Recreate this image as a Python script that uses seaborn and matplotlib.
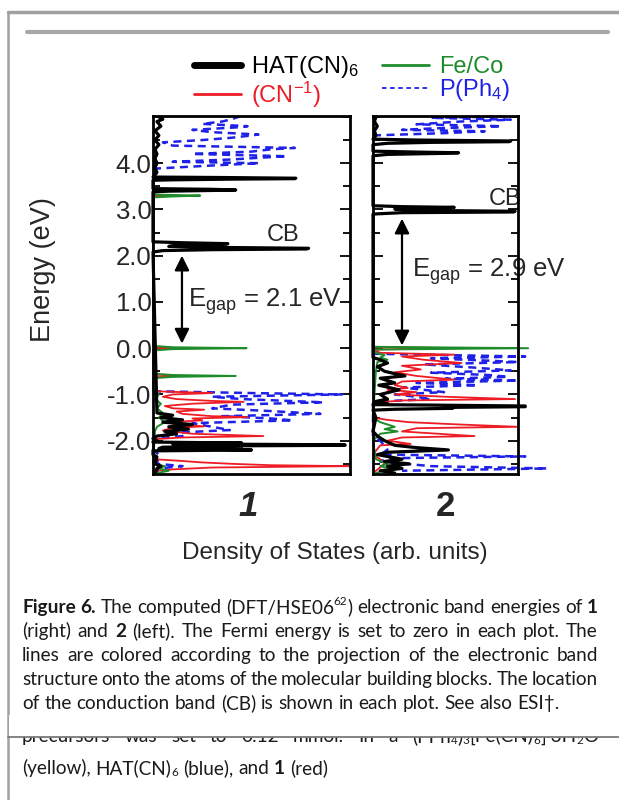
import re
import numpy as np
import pandas as pd
import matplotlib
matplotlib.use("Agg")
import matplotlib.pyplot as plt
from matplotlib.lines import Line2D
from matplotlib.patches import Rectangle
from matplotlib.ticker import FixedLocator, MultipleLocator, FixedFormatter
import seaborn as sns

# ---- DOS traces (energy in eV, dos as fraction of panel width) ----
# panel 1
hat1_e = [5.0, 4.95, 4.9, 4.8, 4.7, 4.6, 4.5, 4.4, 4.3, 4.2, 4.1, 4.0, 3.9, 3.8, 3.7,
          3.69, 3.675, 3.665, 3.655, 3.64, 3.63, 3.45, 3.435, 3.42, 3.41, 3.395, 3.38,
          2.3, 2.28, 2.26, 2.245, 2.23, 2.2, 2.18, 2.16, 2.145, 2.13, 2.11, 2.08,
          -1.4, -1.45, -1.5, -1.55, -1.6, -1.65, -1.7, -1.75, -1.8, -1.85, -1.9, -1.95,
          -2.0, -2.03, -2.05, -2.07, -2.08, -2.09, -2.1, -2.11, -2.12, -2.13, -2.14,
          -2.17, -2.19, -2.2, -2.22, -2.3, -2.35, -2.5, -2.55, -2.6, -2.7]
hat1_d = [0.03, 0.05, 0.02, 0.04, 0.01, 0.03, 0.01, 0.03, 0.01, 0.02, 0.01, 0.02, 0.01, 0.02, 0.0,
          0.35, 0.725, 0.72, 0.4, 0.1, 0.0, 0.0, 0.3, 0.42, 0.3, 0.08, 0.0,
          0.0, 0.15, 0.38, 0.35, 0.12, 0.08, 0.3, 0.79, 0.78, 0.3, 0.05, 0.0,
          0.02, 0.1, 0.04, 0.15, 0.05, 0.2, 0.08, 0.18, 0.06, 0.12, 0.02, 0.0,
          0.02, 0.0, 0.45, 0.1, 0.6, 0.975, 0.975, 0.45, 0.45, 0.35, 0.05,
          0.03, 0.35, 0.5, 0.0, 0.0, 0.02, 0.01, 0.04, 0.02, 0.01]
feco1_e = [3.35, 3.32, 3.3, 3.28, 3.26, 0.05, 0.02, 0.0, -0.02, -0.05, -0.55, -0.58, -0.6,
           -0.62, -0.65, -0.95, -1.0, -1.1, -1.2, -1.3, -1.4, -1.5, -1.6, -1.7, -1.8, -2.5,
           -2.55, -2.6, -2.65, -2.7]
feco1_d = [0.0, 0.02, 0.24, 0.1, 0.0, 0.0, 0.1, 0.475, 0.1, 0.0, 0.0, 0.1, 0.42,
           0.1, 0.0, 0.0, 0.03, 0.01, 0.04, 0.02, 0.05, 0.03, 0.06, 0.02, 0.01, 0.0,
           0.06, 0.03, 0.08, 0.02]
cn1_e = [3.32, 3.3, 3.28, 0.03, 0.0, -0.03, -0.57, -0.6, -0.63, -0.93, -0.97, -1.0, -1.05,
         -1.1, -1.14, -1.16, -1.2, -1.25, -1.3, -1.33, -1.37, -1.42, -1.47, -1.49, -1.52,
         -1.56, -1.6, -1.65, -1.69, -1.72, -1.78, -1.85, -1.9, -1.93, -1.97, -2.4, -2.43,
         -2.47, -2.5, -2.53, -2.55, -2.58, -2.62, -2.65]
cn1_d = [0.0, 0.06, 0.0, 0.0, 0.12, 0.0, 0.0, 0.15, 0.0, 0.0, 0.3, 0.1, 0.05,
         0.12, 0.3, 0.46, 0.2, 0.06, 0.1, 0.26, 0.12, 0.15, 0.3, 0.48, 0.2,
         0.25, 0.08, 0.12, 0.26, 0.1, 0.05, 0.2, 0.56, 0.15, 0.0, 0.0, 0.12,
         0.25, 0.4, 0.6, 1.0, 0.3, 0.1, 0.0]
pph1_top_e = [3.88, 3.95, 4.0, 4.03, 4.08, 4.12, 4.15, 4.2, 4.25, 4.3, 4.33, 4.38, 4.45,
              4.5, 4.55, 4.6, 4.62, 4.67, 4.72, 4.78, 4.8, 4.85, 4.9, 4.95, 5.01]
pph1_top_d = [0.0, 0.3, 0.54, 0.1, 0.4, 0.55, 0.68, 0.2, 0.5, 0.6, 0.72, 0.1, 0.05,
              0.25, 0.4, 0.5, 0.535, 0.3, 0.2, 0.45, 0.48, 0.25, 0.35, 0.4, 0.44]
pph1_low_e = [-0.93, -0.97, -1.0, -1.05, -1.1, -1.17, -1.22, -1.3, -1.36, -1.42, -1.47,
              -1.52, -1.56, -1.62, -1.7, -1.77, -1.83, -1.9, -1.95, -2.2, -2.3, -2.5,
              -2.55, -2.6, -2.7]
pph1_low_d = [0.0, 0.5, 0.96, 0.3, 0.45, 0.865, 0.4, 0.3, 0.6, 0.85, 0.35,
              0.6, 0.71, 0.2, 0.3, 0.39, 0.1, 0.15, 0.0, 0.0, 0.03, 0.02,
              0.15, 0.03, 0.02]

# panel 2
hat2_e = [5.0, 4.9, 4.8, 4.7, 4.6, 4.52, 4.5, 4.48, 4.465, 4.45, 4.43, 4.4, 4.26, 4.24,
          4.225, 4.21, 4.19, 4.16, 3.08, 3.06, 3.045, 3.03, 3.01, 2.98, 2.96, 2.945, 2.93,
          2.9, -0.2, -0.25, -0.32, -0.4, -0.5, -0.6, -0.65, -0.75, -0.8, -0.9, -1.0, -1.1,
          -1.15, -1.2, -1.22, -1.23, -1.25, -1.265, -1.28, -1.3, -1.32, -1.34, -1.5, -1.8,
          -1.9, -2.0, -2.1, -2.15, -2.2, -2.25, -2.3, -2.4, -2.45, -2.5, -2.55, -2.6,
          -2.65, -2.7]
hat2_d = [0.02, 0.01, 0.03, 0.01, 0.02, 0.0, 0.3, 0.95, 0.94, 0.4, 0.1, 0.0, 0.0, 0.3,
          0.59, 0.45, 0.1, 0.0, 0.0, 0.2, 0.56, 0.4, 0.15, 0.3, 0.98, 0.97, 0.2,
          0.0, 0.0, 0.05, 0.1, 0.03, 0.08, 0.22, 0.05, 0.15, 0.04, 0.18, 0.05, 0.1,
          0.02, 0.1, 0.0, 0.4, 1.05, 1.05, 0.5, 0.55, 0.15, 0.0, 0.02, 0.0,
          0.03, 0.08, 0.15, 0.3, 0.52, 0.1, 0.03, 0.2, 0.08, 0.25, 0.1, 0.2,
          0.05, 0.15]
feco2_e = [0.03, 0.0, -0.03, -0.1, -0.15, -0.2, -0.25, -0.3, -0.5, -1.5, -1.6, -1.7,
           -1.75, -1.8, -1.85, -2.0, -2.4, -2.5, -2.55, -2.6, -2.7]
feco2_d = [0.0, 1.07, 0.0, 0.02, 0.08, 0.05, 0.1, 0.03, 0.02, 0.0, 0.05, 0.15,
           0.08, 0.17, 0.05, 0.0, 0.02, 0.1, 0.05, 0.12, 0.02]
cn2_e = [0.03, 0.0, -0.03, -0.1, -0.14, -0.18, -0.25, -0.32, -0.38, -0.46, -0.52, -0.6,
         -0.68, -0.72, -0.8, -0.86, -0.9, -0.95, -1.0, -1.05, -1.1, -1.13, -1.18, -1.5,
         -1.55, -1.6, -1.65, -1.7, -1.73, -1.8, -1.86, -1.9, -1.93, -2.0, -2.07, -2.1,
         -2.3, -2.4, -2.5, -2.7]
cn2_d = [0.0, 0.57, 0.0, 0.05, 0.56, 0.2, 0.35, 0.61, 0.2, 0.33, 0.15, 0.3,
         0.56, 0.2, 0.15, 0.24, 0.1, 0.3, 0.15, 0.5, 0.98, 0.2, 0.0, 0.0,
         0.1, 0.25, 0.6, 1.0, 0.3, 0.2, 0.5, 0.7, 0.2, 0.1, 0.26, 0.05,
         0.0, 0.05, 0.08, 0.0]
pph2_top_e = [4.6, 4.65, 4.69, 4.72, 4.75, 4.8, 4.84, 4.9, 4.94, 4.98, 5.01]
pph2_top_d = [0.0, 0.5, 0.77, 0.2, 0.4, 0.885, 0.3, 0.6, 0.95, 0.4, 0.9]
pph2_low_e = [-0.12, -0.18, -0.22, -0.27, -0.3, -0.35, -0.42, -0.48, -0.53, -0.58, -0.62,
              -0.66, -0.7, -0.75, -0.8, -0.85, -0.9, -0.95, -1.0, -1.05, -1.1, -1.15,
              -1.2, -1.9, -2.0, -2.2, -2.3, -2.34, -2.38, -2.45, -2.55, -2.6, -2.65]
pph2_low_d = [0.0, 1.05, 0.4, 0.8, 1.0, 0.35, 0.7, 0.95, 0.4, 0.8, 0.93,
              0.5, 1.0, 0.3, 0.72, 0.2, 0.35, 0.49, 0.15, 0.3, 0.4, 0.05,
              0.0, 0.0, 0.05, 0.1, 0.05, 1.05, 0.1, 0.05, 0.4, 1.2, 0.2]

legend_labels = ["HAT(CN)$_6$", "(CN$^{-1}$)", "Fe/Co", "P(Ph$_4$)"]
ytick_vals = [-2, -1, 0, 1, 2, 3, 4]
ytick_text = ["-2.0", "-1.0", "0.0", "1.0", "2.0", "3.0", "4.0"]
gap_text = ["E$_{gap}$ = 2.1 eV", "E$_{gap}$ = 2.9 eV"]
gap_ends = [(2.0, 0.1), (2.8, 0.06)]

caption_lines = [
    "**Figure** **6.** The computed (DFT/HSE06^62) electronic band energies of **1**",
    "(right) and **2** (left). The Fermi energy is set to zero in each plot. The",
    "lines are colored according to the projection of the electronic band",
    "structure onto the atoms of the molecular building blocks. The location",
    "of the conduction band (CB) is shown in each plot. See also ESI\u2020.",
]
cut_line = "precursors was set to 0.12 mmol. In a (PPh_4)_3[Fe(CN)_6]\u00b73H_2O"
last_line = "(yellow), HAT(CN)_6 (blue), and **1** (red)"

# ---- style ----
sns.set_theme(style="white")
plt.rcParams["font.family"] = ["Liberation Sans", "DejaVu Sans"]
plt.rcParams["mathtext.fontset"] = "custom"
plt.rcParams["mathtext.rm"] = "Liberation Sans"
plt.rcParams["mathtext.it"] = "Liberation Sans:italic"
plt.rcParams["mathtext.default"] = "regular"

BLACK, RED, GREEN, BLUE = "black", "#ee1c25", "#1e8c2a", "#1f22e6"

W, H = 619, 800
fig = plt.figure(figsize=(W / 100, H / 100), dpi=100)

def fx(x):
    return x / W

def fy(y):
    return 1 - y / H

ax1 = fig.add_axes([fx(153), fy(474), fx(197), 358 / H])
ax2 = fig.add_axes([fx(373), fy(474), fx(145), 358 / H])

def draw(ax, e, d, color, lw, dashed=False):
    df = pd.DataFrame({"energy": e, "dos": d})
    sns.lineplot(data=df, x="dos", y="energy", sort=False, estimator=None, ax=ax,
                 color=color, lw=lw, legend=False)
    line = ax.lines[-1]
    if dashed:
        line.set_dashes((3.2, 2.2))

for ax, traces in [
    (ax1, [(pph1_top_e, pph1_top_d, BLUE, 1.8, True), (pph1_low_e, pph1_low_d, BLUE, 1.8, True),
           (cn1_e, cn1_d, RED, 1.3, False), (feco1_e, feco1_d, GREEN, 1.4, False),
           (hat1_e, hat1_d, BLACK, 2.3, False)]),
    (ax2, [(pph2_top_e, pph2_top_d, BLUE, 1.8, True), (pph2_low_e, pph2_low_d, BLUE, 1.8, True),
           (cn2_e, cn2_d, RED, 1.3, False), (feco2_e, feco2_d, GREEN, 1.4, False),
           (hat2_e, hat2_d, BLACK, 2.3, False)]),
]:
    for e, d, c, lw, ds in traces:
        draw(ax, e, d, c, lw, ds)

for ax in (ax1, ax2):
    for line in ax.lines:
        line.set_clip_on(False)

for ax in (ax1, ax2):
    ax.set_xlim(0, 1)
    ax.set_ylim(-2.72, 5.02)
    ax.set_xlabel("")
    ax.set_ylabel("")
    ax.set_xticks([])
    ax.yaxis.set_major_locator(FixedLocator(ytick_vals))
    ax.yaxis.set_minor_locator(MultipleLocator(0.5))
    ax.tick_params(axis="y", which="both", direction="in", left=True, right=True,
                   width=1.3, color="black")
    ax.tick_params(axis="y", which="major", length=7)
    ax.tick_params(axis="y", which="minor", length=5)
    for s in ax.spines.values():
        s.set_color("black")
        s.set_linewidth(2.0)
        s.set_zorder(5)

ax1.yaxis.set_major_formatter(FixedFormatter(ytick_text))
ax1.tick_params(axis="y", labelsize=18.5, pad=1)
ax2.tick_params(axis="y", labelleft=False)

# annotations
for ax, txt, (top, bot), tx, ty, ax_x, cbx, cby in [
    (ax1, gap_text[0], gap_ends[0], 0.18, 1.0, 0.147, 0.66, 2.45),
    (ax2, gap_text[1], gap_ends[1], 0.27, 1.65, 0.2, 0.91, 3.22),
]:
    ax.annotate("", xy=(ax_x, bot), xytext=(ax_x, top),
                arrowprops=dict(arrowstyle="<|-|>", color="black", lw=1.6,
                                mutation_scale=22, shrinkA=0, shrinkB=0))
    ax.text(tx, ty, txt, fontsize=18.5, ha="left", va="center", clip_on=False)
    ax.text(cbx, cby, "CB", fontsize=17, ha="center", va="center")

fig.text(fx(43), fy(270), "Energy (eV)", rotation=90, fontsize=19.5, ha="center", va="center")
fig.text(fx(335), fy(553), "Density of States (arb. units)", fontsize=17.5,
         ha="center", va="center")
fig.text(fx(248), fy(507), "1", fontsize=25, weight="bold", style="italic",
         ha="center", va="center")
fig.text(fx(445), fy(507), "2", fontsize=25, weight="bold", ha="center", va="center")

# legend
handles = [Line2D([], [], color=BLACK, lw=5), Line2D([], [], color=RED, lw=2),
           Line2D([], [], color=GREEN, lw=2), Line2D([], [], color=BLUE, lw=1.3, ls=(0, (2.5, 2)))]
fig.legend(handles, [legend_labels[0], legend_labels[1], legend_labels[2], legend_labels[3]],
           ncol=2, loc="center", bbox_to_anchor=(fx(352), fy(82)), frameon=False,
           fontsize=17, handlelength=2.0, handletextpad=0.4, columnspacing=1.0,
           labelspacing=-0.05, labelcolor=[BLACK, RED, GREEN, BLUE])

# page frame
fig.add_artist(Line2D([fx(8), 1], [fy(12), fy(12)], color="#a0a0a0", lw=2.5))
fig.add_artist(Line2D([fx(8), fx(8)], [fy(12), 0], color="#a0a0a0", lw=1.8))
fig.add_artist(Line2D([fx(27), fx(608)], [fy(32), fy(32)], color="#a8a8a8", lw=3))

# caption text, laid out word by word
renderer = fig.canvas.get_renderer()
CAP_FONT = ["Lato", "DejaVu Sans"]

def parse(word):
    bold = word.startswith("**") and word.endswith("**")
    if bold:
        word = word[2:-2]
    segs = []
    for piece in re.split(r"([\^_]\d+)", word):
        if not piece:
            continue
        if piece[0] == "^":
            segs.append((piece[1:], bold, 0.62, 0.42))
        elif piece[0] == "_":
            segs.append((piece[1:], bold, 0.62, -0.12))
        else:
            segs.append((piece, bold, 1.0, 0.0))
    return segs

def make_words(line, size, y):
    words = []
    for w in line.split(" "):
        objs = []
        for txt, bold, sc, dy in parse(w):
            t = fig.text(0, y + dy * size / 72 * 100 / H, txt, fontsize=size * sc,
                         weight="bold" if bold else "normal", family=CAP_FONT,
                         va="baseline", ha="left", color="#1a1a1a")
            objs.append(t)
        words.append(objs)
    return words

def seg_w(t):
    return t.get_window_extent(renderer).width / W

def layout(line, y, size, justify, x0=fx(22), x1=fx(598)):
    words = make_words(line, size, y)
    widths = [sum(seg_w(t) for t in ws) for ws in words]
    space = fig.text(0, 0, "a a", fontsize=size, family=CAP_FONT)
    one = fig.text(0, 0, "aa", fontsize=size, family=CAP_FONT)
    sp = seg_w(space) - seg_w(one)
    space.remove()
    one.remove()
    if justify and len(words) > 1:
        sp = max((x1 - x0 - sum(widths)) / (len(words) - 1), sp * 0.5)
    x = x0
    for ws, wd in zip(words, widths):
        xx = x
        for t in ws:
            t.set_x(xx)
            xx += seg_w(t)
        x += wd + sp

# size the caption font so a reference phrase matches its measured width
probe = fig.text(0, 0, "of the conduction band (CB) is sh", fontsize=12, family=CAP_FONT)
cap_size = 12 * (274 / W) / seg_w(probe)
probe.remove()

for i, line in enumerate(caption_lines):
    layout(line, fy(613 + 24.1 * i), cap_size, justify=i < len(caption_lines) - 1)

layout(cut_line, fy(742), cap_size, justify=True)
fig.add_artist(Rectangle((fx(9), fy(737)), 1, 22 / H, transform=fig.transFigure,
                         facecolor="white", edgecolor="none", zorder=10))
fig.add_artist(Line2D([fx(8), 1], [fy(737), fy(737)], color="#7a7a7a", lw=1.3, zorder=11))
layout(last_line, fy(774), cap_size, justify=False)

fig.savefig("out.png", dpi=100)
